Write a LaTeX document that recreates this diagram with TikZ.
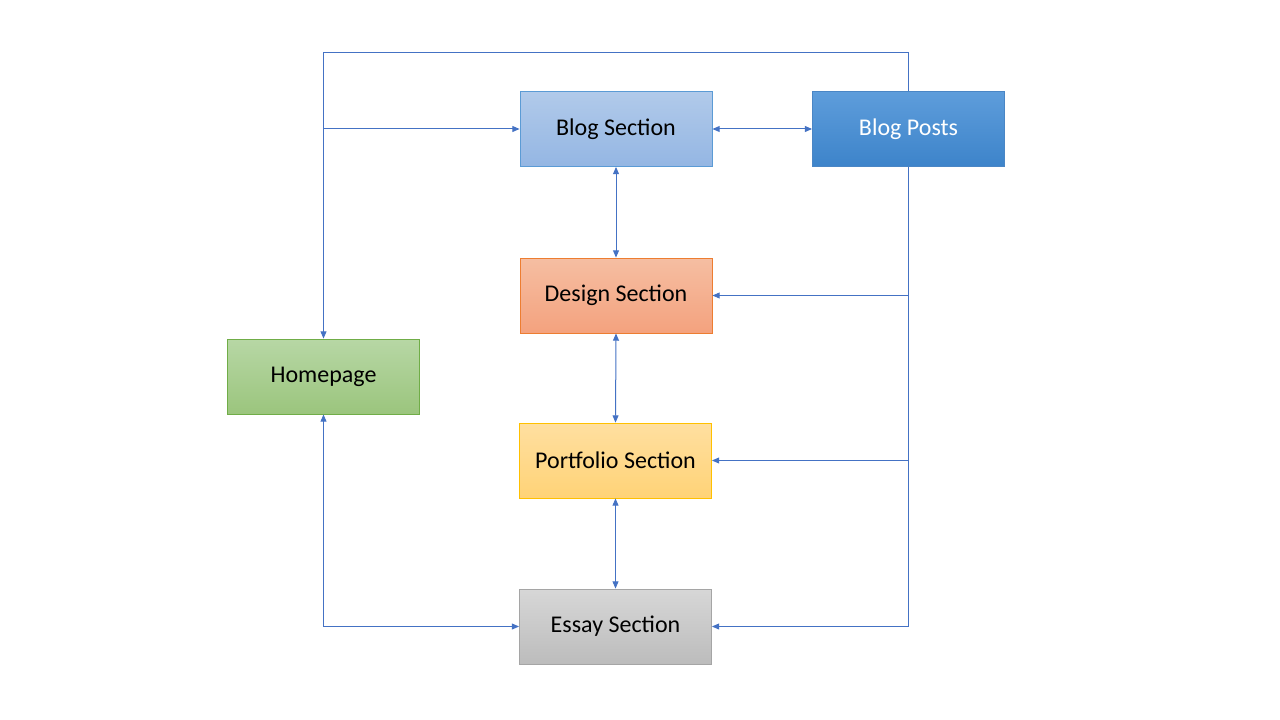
\documentclass[tikz,border=0pt]{standalone}
\usepackage{fontspec}
\setmainfont{Carlito}
\usetikzlibrary{arrows.meta}
\definecolor{lineblue}{HTML}{4472C4}
\definecolor{bsTop}{HTML}{B1CAEA}
\definecolor{bsBot}{HTML}{94B6E3}
\definecolor{bsBd}{HTML}{5B9BD5}
\definecolor{bpTop}{HTML}{5E9DDB}
\definecolor{bpBot}{HTML}{3D84CA}
\definecolor{bpBd}{HTML}{4A86C5}
\definecolor{dsTop}{HTML}{F5BEA2}
\definecolor{dsBot}{HTML}{F4A27E}
\definecolor{dsBd}{HTML}{ED7D31}
\definecolor{hpTop}{HTML}{B7D7A5}
\definecolor{hpBot}{HTML}{9BC57D}
\definecolor{hpBd}{HTML}{70AD47}
\definecolor{pfTop}{HTML}{FFDFA0}
\definecolor{pfBot}{HTML}{FFD377}
\definecolor{pfBd}{HTML}{FFC000}
\definecolor{esTop}{HTML}{D7D7D7}
\definecolor{esBot}{HTML}{BCBCBC}
\definecolor{esBd}{HTML}{A5A5A5}
\tikzset{
  box/.style={rectangle, minimum width=144pt, minimum height=56.25pt, inner sep=0pt,
    line width=0.6pt, font=\fontsize{18}{21}\selectfont, text=black},
  conn/.style={draw=lineblue, line width=0.75pt, >={Triangle[length=5.5pt,width=4.5pt]}}
}
\begin{document}
\begin{tikzpicture}[x=0.75pt,y=-0.75pt]
\useasboundingbox[fill=white] (0,0) rectangle (1280,720);
\node[box, top color=bsTop, bottom color=bsBot, draw=bsBd] (blog) at (616,129) {Blog Section};
\node[box, top color=bpTop, bottom color=bpBot, draw=bpBd, text=white] (posts) at (908.5,129) {Blog Posts};
\node[box, top color=dsTop, bottom color=dsBot, draw=dsBd] (design) at (616,295.5) {Design Section};
\node[box, top color=hpTop, bottom color=hpBot, draw=hpBd] (home) at (323.5,376.5) {Homepage};
\node[box, top color=pfTop, bottom color=pfBot, draw=pfBd] (port) at (615.5,460.5) {Portfolio Section};
\node[box, top color=esTop, bottom color=esBot, draw=esBd] (essay) at (615.5,626.5) {Essay Section};

\coordinate (tr) at (908.5,53);
\coordinate (tl) at (323.5,53);
\coordinate (jl) at (home.north |- blog.west);
\coordinate (br) at (posts.south |- essay.east);
\coordinate (bd) at (posts.south |- design.east);
\coordinate (bp) at (posts.south |- port.east);

\draw[conn,->] (posts.north) -- (tr) -- (tl) -- (home.north);
\draw[conn,->] (jl) -- (blog.west);
\draw[conn,<->] (blog.east) -- (posts.west);
\draw[conn,<->] (blog.south) -- (design.north);
\draw[conn,<->] (design.south) -- (port.north);
\draw[conn,<->] (port.south) -- (essay.north);
\draw[conn] (posts.south) -- (br);
\draw[conn,->] (bd) -- (design.east);
\draw[conn,->] (bp) -- (port.east);
\draw[conn,->] (br) -- (essay.east);
\draw[conn,<->] (home.south) |- (essay.west);
\end{tikzpicture}
\end{document}
